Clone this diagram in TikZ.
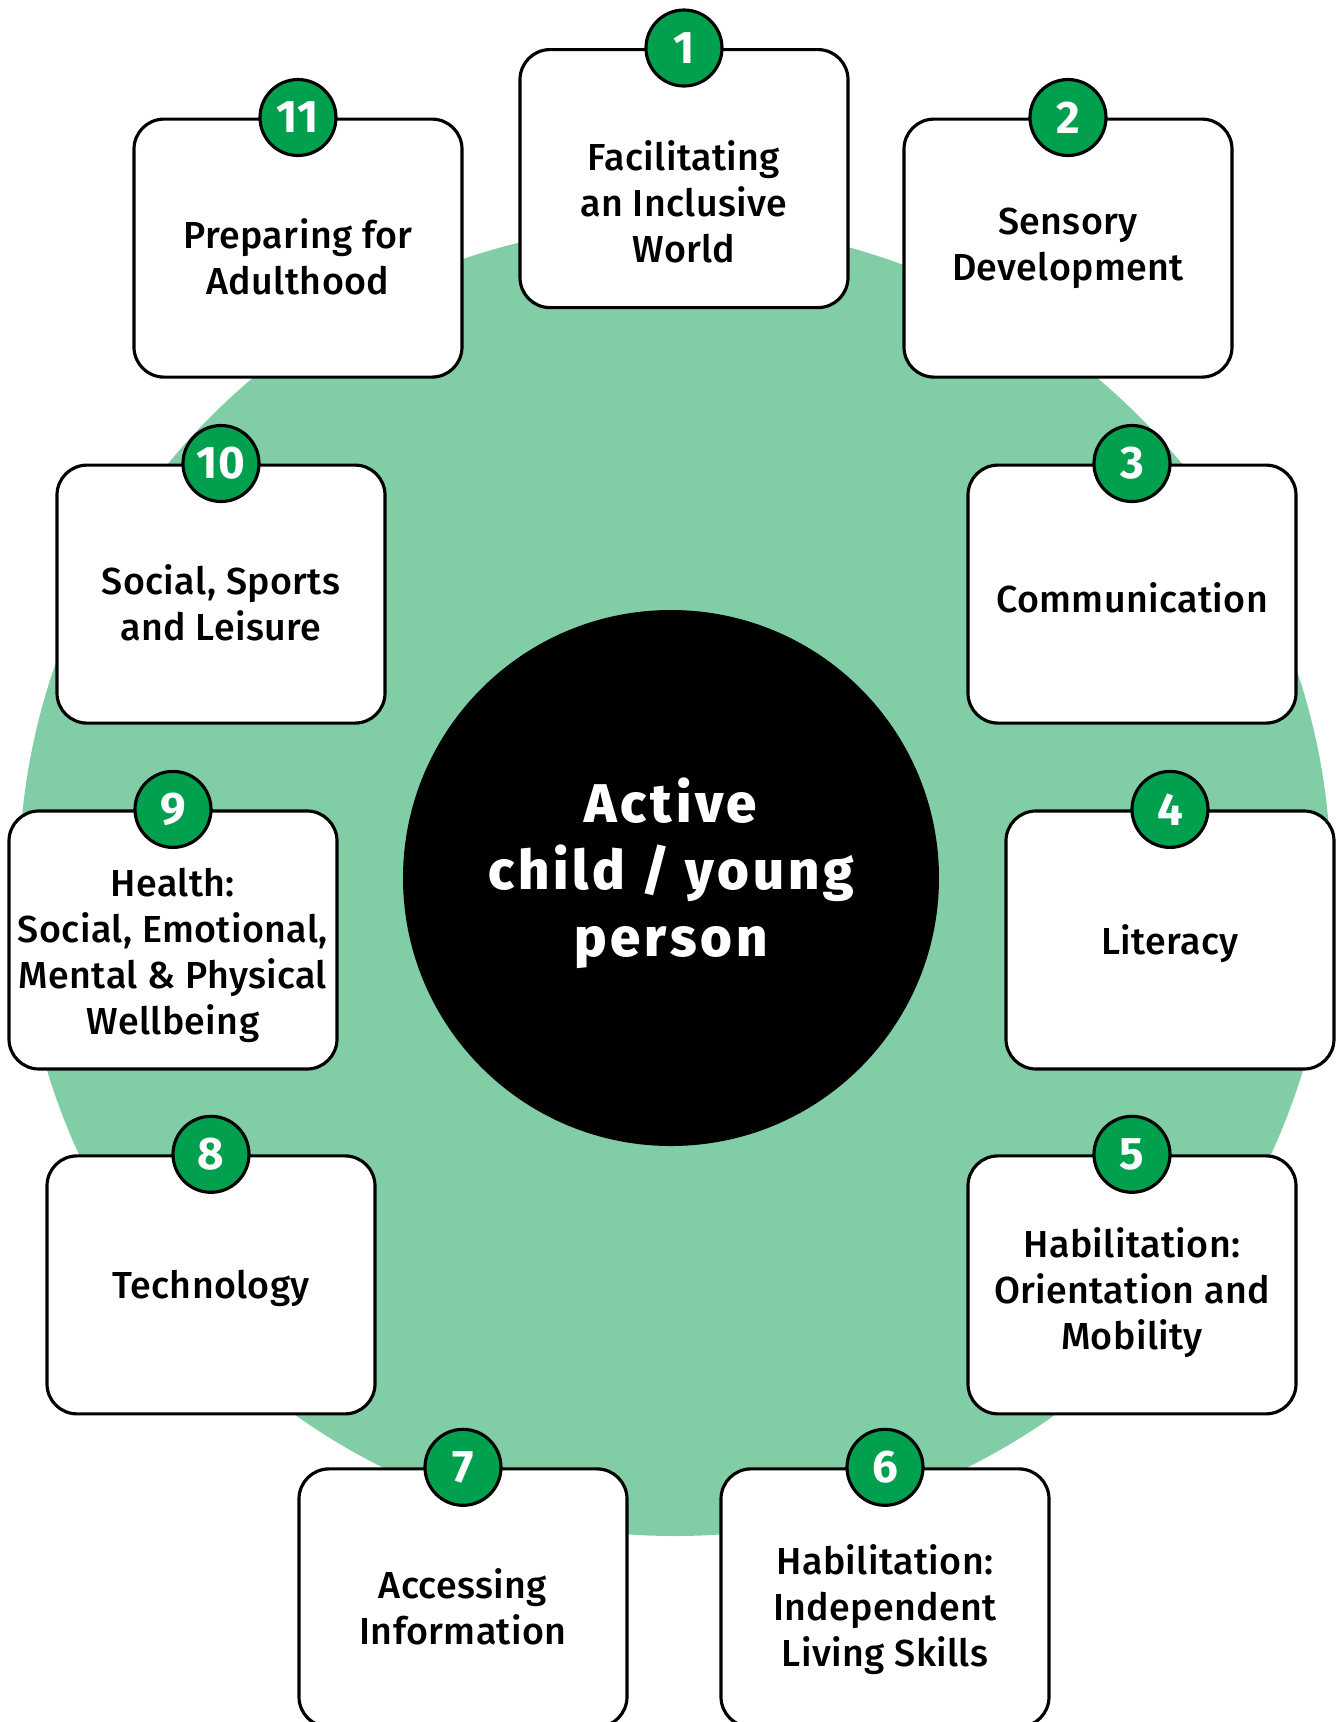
\documentclass[tikz,border=0pt]{standalone}
\usepackage{fontspec}
\setmainfont{Fira Sans}[UprightFont=* Medium, BoldFont=* Bold, LetterSpace=1.0]
\newfontfamily\hubfont{Fira Sans}[UprightFont=* ExtraBold, LetterSpace=7.0]
\usetikzlibrary{positioning}
\definecolor{ringgreen}{HTML}{81CEA6}
\definecolor{badgegreen}{HTML}{00A04E}
\tikzset{card/.style={draw, line width=0.9pt, rounded corners=3mm, fill=white, minimum width=3.28cm, minimum height=2.58cm, anchor=north}}
\tikzset{cardtext/.style={align=center, inner sep=0pt, font=\fontsize{10.7}{13.1}\selectfont}}
\tikzset{badge/.style={draw, circle, line width=0.9pt, fill=badgegreen, minimum size=7.6mm, inner sep=0pt, text=white, font=\fontsize{13}{13}\selectfont\bfseries}}

\begin{document}
\begin{tikzpicture}
        \useasboundingbox (0,0) rectangle (13.41,-17.22);

        % background ring and hub
        \node[circle, fill=ringgreen, minimum size=13.12cm] (ring) at (6.75,-8.80) {};
        \node[circle, fill=black, minimum size=5.36cm] (hub) at (6.71,-8.78) {};
        \node[align=center, text=white, font=\fontsize{15.5}{19}\hubfont] (hubtext) at ([yshift=0.5mm]hub.center) {Active\\child / young\\person};

        \node[card] (c1) at (6.84,-0.48) {};
        \node[card] (c2) at (10.68,-1.175) {};
        \node[card] (c3) at (11.32,-4.635) {};
        \node[card] (c4) at (11.70,-8.094) {};
        \node[card] (c5) at (11.32,-11.543) {};
        \node[card] (c6) at (8.85,-14.673) {};
        \node[card] (c7) at (4.63,-14.673) {};
        \node[card] (c8) at (2.11,-11.543) {};
        \node[card] (c9) at (1.73,-8.094) {};
        \node[card] (c10) at (2.21,-4.635) {};
        \node[card] (c11) at (2.98,-1.175) {};

        \node[cardtext] (t1) at ([yshift=-2.3mm]c1.center) {Facilitating\\an Inclusive\\World};
        \node[cardtext] (t2) at ([yshift=0mm]c2.center) {Sensory\\Development};
        \node[cardtext] (t3) at ([yshift=-0.4mm]c3.center) {Communication};
        \node[cardtext] (t4) at ([yshift=-0.4mm]c4.center) {Literacy};
        \node[cardtext] (t5) at ([yshift=-0.8mm]c5.center) {Habilitation:\\Orientation and\\Mobility};
        \node[cardtext] (t6) at ([yshift=-1.2mm]c6.center) {Habilitation:\\Independent\\Living Skills};
        \node[cardtext] (t7) at ([yshift=-0.9mm]c7.center) {Accessing\\Information};
        \node[cardtext] (t8) at ([yshift=-0.4mm]c8.center) {Technology};
        \node[cardtext] (t9) at ([yshift=-1.5mm]c9.center) {Health:\\Social, Emotional,\\Mental \& Physical\\Wellbeing};
        \node[cardtext] (t10) at ([yshift=-0.9mm]c10.center) {Social, Sports\\and Leisure};
        \node[cardtext] (t11) at ([yshift=-0.9mm]c11.center) {Preparing for\\Adulthood};

        \node[badge] (n1) at (c1.north) {1};
        \node[badge] (n2) at (c2.north) {2};
        \node[badge] (n3) at (c3.north) {3};
        \node[badge] (n4) at (c4.north) {4};
        \node[badge] (n5) at (c5.north) {5};
        \node[badge] (n6) at (c6.north) {6};
        \node[badge] (n7) at (c7.north) {7};
        \node[badge] (n8) at (c8.north) {8};
        \node[badge] (n9) at (c9.north) {9};
        \node[badge] (n10) at (c10.north) {10};
        \node[badge] (n11) at (c11.north) {11};
    \end{tikzpicture}
\end{document}
